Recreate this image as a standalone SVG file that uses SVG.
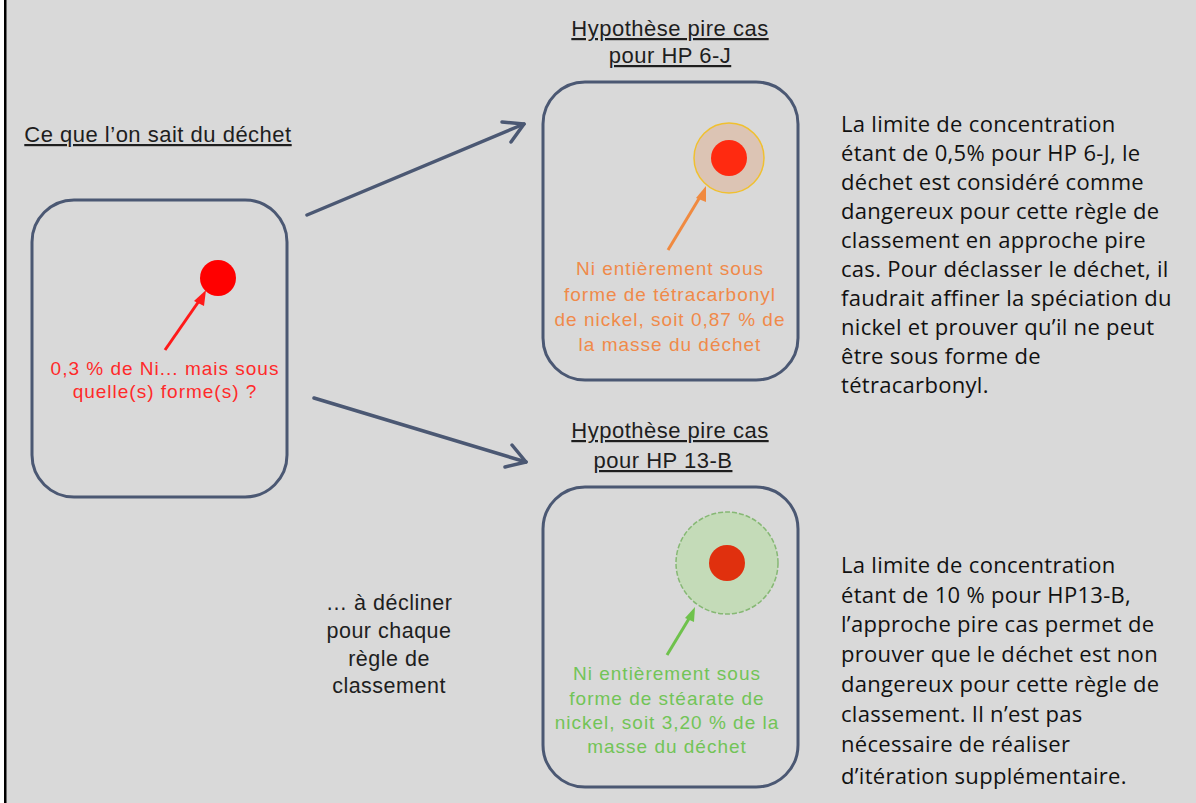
<svg xmlns="http://www.w3.org/2000/svg" width="1196" height="803" viewBox="0 0 1196 803">
<defs>
<style>
.box{fill:none;stroke:#4b5873;stroke-width:3}
.conn{fill:none;stroke:#4b5873;stroke-width:3.5;stroke-linecap:round}
.head{fill:none;stroke:#4b5873;stroke-width:3.5;stroke-linecap:round;stroke-linejoin:round}
.t{font-family:"Liberation Sans",Arial,sans-serif;text-anchor:middle;font-size:19px;letter-spacing:1px}
.title{font-family:"Liberation Sans",Arial,sans-serif;font-size:22px;letter-spacing:0.5px;fill:#1e1e1e;text-decoration:underline;text-anchor:middle}
.dec{font-family:"Liberation Sans",Arial,sans-serif;text-anchor:middle;font-size:21.5px;letter-spacing:0.5px;fill:#1e1e1e}
.body{font-family:"Open Sans","Noto Sans",sans-serif;font-size:22px;letter-spacing:0.3px;fill:#111}
</style>
</defs>
<rect x="0" y="0" width="1196" height="803" fill="#d9d9d9"/>
<rect x="0" y="0" width="4" height="803" fill="#ffffff"/>
<rect x="4" y="0" width="2.5" height="803" fill="#000"/>

<g id="connectors">
<line class="conn" x1="307" y1="215" x2="524" y2="124"/>
<polyline class="head" points="502,122 524,124 511,142"/>
<line class="conn" x1="314" y1="398" x2="526" y2="462"/>
<polyline class="head" points="512,445 526,462 505,467"/>
</g>

<g id="known">
<text class="title" x="158" y="142">Ce que l’on sait du déchet</text>
<rect class="box" x="32" y="200" width="255" height="297" rx="42"/>
<circle cx="218" cy="278" r="18" fill="#ff0000"/>
<line x1="165" y1="350" x2="199" y2="301" stroke="#ff1a1a" stroke-width="3"/>
<polygon points="206,290 194,301 204,306" fill="#ff1a1a"/>
<text class="t" x="165" y="375" fill="#ff2a2a">0,3 % de Ni... mais sous</text>
<text class="t" x="165" y="398" fill="#ff2a2a">quelle(s) forme(s) ?</text>
</g>

<g id="hp6j">
<text class="title" x="670" y="36">Hypothèse pire cas</text>
<text class="title" x="670" y="63">pour HP 6-J</text>
<rect class="box" x="543" y="82" width="255" height="298" rx="42"/>
<circle cx="729" cy="158" r="35" fill="#dcc4b4" stroke="#f0c030" stroke-width="1.5"/>
<circle cx="729" cy="158" r="18" fill="#ff2a10"/>
<line x1="668" y1="250" x2="700" y2="197" stroke="#f08a40" stroke-width="3"/>
<polygon points="706,186 696,198 706,202" fill="#f08a40"/>
<text class="t" x="670" y="275" fill="#f08a4a">Ni entièrement sous</text>
<text class="t" x="670" y="301" fill="#f08a4a">forme de tétracarbonyl</text>
<text class="t" x="670" y="326" fill="#f08a4a">de nickel, soit 0,87 % de</text>
<text class="t" x="670" y="351" fill="#f08a4a">la masse du déchet</text>
</g>

<g id="hp13b">
<text class="title" x="670" y="438">Hypothèse pire cas</text>
<text class="title" x="663" y="468">pour HP 13-B</text>
<rect class="box" x="543" y="487" width="255" height="300" rx="42"/>
<circle cx="727" cy="563" r="51" fill="#c4dbb8" stroke="#86b874" stroke-width="1.5" stroke-dasharray="5 2"/>
<circle cx="727" cy="563" r="18" fill="#e0300e"/>
<line x1="667" y1="655" x2="690" y2="617" stroke="#6fc24c" stroke-width="3"/>
<polygon points="695,607 685,618 694,622" fill="#6fc24c"/>
<text class="t" x="667" y="680" fill="#72c457">Ni entièrement sous</text>
<text class="t" x="667" y="705" fill="#72c457">forme de stéarate de</text>
<text class="t" x="667" y="729" fill="#72c457">nickel, soit 3,20 % de la</text>
<text class="t" x="667" y="753" fill="#72c457">masse du déchet</text>
</g>

<g id="decline">
<text class="dec" x="389" y="610">… à décliner</text>
<text class="dec" x="389" y="638">pour chaque</text>
<text class="dec" x="389" y="666">règle de</text>
<text class="dec" x="389" y="693">classement</text>
</g>

<g id="note1">
<text class="body" x="841" y="132">La limite de concentration</text>
<text class="body" x="841" y="161">étant de 0,5% pour HP 6-J, le</text>
<text class="body" x="841" y="190">déchet est considéré comme</text>
<text class="body" x="841" y="219">dangereux pour cette règle de</text>
<text class="body" x="841" y="248">classement en approche pire</text>
<text class="body" x="841" y="277">cas. Pour déclasser le déchet, il</text>
<text class="body" x="841" y="306">faudrait affiner la spéciation du</text>
<text class="body" x="841" y="335">nickel et prouver qu’il ne peut</text>
<text class="body" x="841" y="364">être sous forme de</text>
<text class="body" x="841" y="393">tétracarbonyl.</text>
</g>

<g id="note2">
<text class="body" x="841" y="573">La limite de concentration</text>
<text class="body" x="841" y="603">étant de 10 % pour HP13-B,</text>
<text class="body" x="841" y="632">l’approche pire cas permet de</text>
<text class="body" x="841" y="662">prouver que le déchet est non</text>
<text class="body" x="841" y="692">dangereux pour cette règle de</text>
<text class="body" x="841" y="722">classement. Il n’est pas</text>
<text class="body" x="841" y="752">nécessaire de réaliser</text>
<text class="body" x="841" y="784">d’itération supplémentaire.</text>
</g>
</svg>
